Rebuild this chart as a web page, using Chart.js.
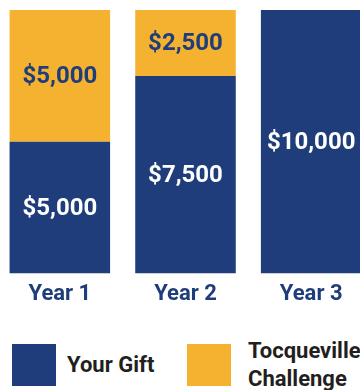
<!DOCTYPE html>
<html>
<head>
<meta charset="utf-8">
<script src="https://cdn.jsdelivr.net/npm/chart.js@4"></script>
<style>
  html, body { margin: 0; padding: 0; background: #fff; overflow: hidden; }
  body { width: 360px; height: 390px; position: relative; font-family: Roboto, sans-serif; }
  #wrap { position: absolute; left: -3px; top: 0; width: 377px; height: 316px; }
  #legend { position: absolute; left: 0; top: 344px; width: 400px; height: 46px; }
  .item { position: absolute; top: 0; display: flex; align-items: center; height: 42px; }
  .swatch { width: 44px; height: 42px; flex: none; }
  .txt { font-weight: 700; font-size: 22px; color: #231f20; line-height: 28px; white-space: nowrap; }
</style>
</head>
<body>
<div id="wrap"><canvas id="giftChart"></canvas></div>
<div id="legend"></div>
<script>
const categories = ['Year 1', 'Year 2', 'Year 3'];
const yourGift = [5000, 7500, 10000];
const challenge = [5000, 2500, 0];
const seriesNames = ['Your Gift', 'Tocqueville Challenge'];

const BLUE = '#1f3d7a';
const GOLD = '#f5b230';

const money = v => '$' + v.toLocaleString('en-US');

// prints each segment's amount in the middle of its bar
const barLabels = {
    id: 'barLabels',
    afterDatasetsDraw(chart) {
        const ctx = chart.ctx;
        ctx.save();
        ctx.font = '700 24px Roboto';
        ctx.textAlign = 'center';
        ctx.textBaseline = 'middle';
        chart.data.datasets.forEach((ds, i) => {
            chart.getDatasetMeta(i).data.forEach((bar, j) => {
                const v = ds.data[j];
                if (!v) return;
                const p = bar.getProps(['x', 'y', 'base'], true);
                ctx.fillStyle = i === 0 ? '#ffffff' : BLUE;
                ctx.fillText(money(v), p.x, (p.y + p.base) / 2 + 1);
            });
        });
        ctx.restore();
    }
};

const chart = new Chart(document.getElementById('giftChart'), {
    type: 'bar',
    data: {
        labels: categories,
        datasets: [
            { label: seriesNames[0], data: yourGift, backgroundColor: BLUE },
            { label: seriesNames[1], data: challenge, backgroundColor: GOLD }
        ]
    },
    options: {
        responsive: true,
        maintainAspectRatio: false,
        animation: false,
        layout: { padding: { top: 10, left: 0, right: 0, bottom: 0 } },
        datasets: { bar: { categoryPercentage: 1, barPercentage: 0.8, borderWidth: 0 } },
        plugins: { legend: { display: false }, tooltip: { enabled: false } },
        scales: {
            x: {
                stacked: true,
                grid: { display: false, drawTicks: false },
                border: { display: false },
                ticks: { color: BLUE, padding: 8, font: { family: 'Roboto', weight: '700', size: 22 } }
            },
            y: {
                stacked: true,
                display: false,
                min: 0,
                max: 10000
            }
        }
    },
    plugins: [barLabels]
});

// html legend from the dataset labels
const legend = document.getElementById('legend');
const legendLeft = [12, 187];
chart.data.datasets.forEach((ds, i) => {
    const item = document.createElement('div');
    item.className = 'item';
    item.style.left = legendLeft[i] + 'px';
    const sw = document.createElement('div');
    sw.className = 'swatch';
    sw.style.background = ds.backgroundColor;
    const txt = document.createElement('div');
    txt.className = 'txt';
    txt.style.marginLeft = i === 0 ? '11px' : '17px';
    txt.innerHTML = i === 0 ? ds.label : ds.label.split(' ').join('<br>');
    item.appendChild(sw);
    item.appendChild(txt);
    legend.appendChild(item);
});
</script>
</body>
</html>
